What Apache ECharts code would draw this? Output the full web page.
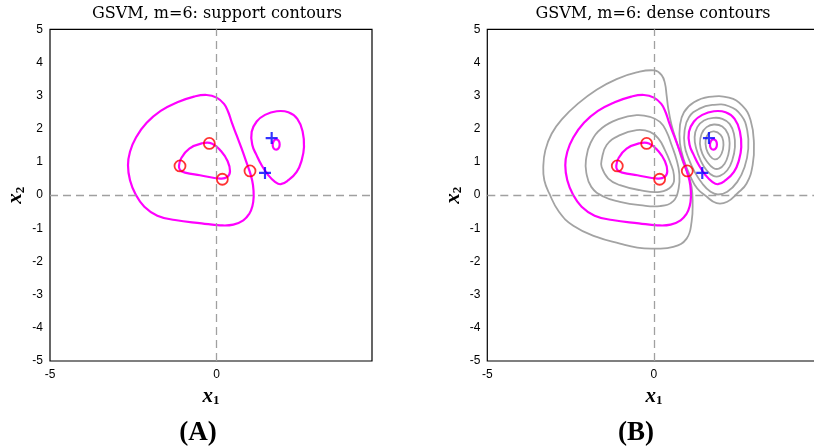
<!DOCTYPE html>
<html>
<head>
<meta charset="utf-8">
<script src="https://cdn.jsdelivr.net/npm/echarts@6/dist/echarts.min.js"></script>
<style>html,body{margin:0;padding:0;background:#fff;}#c{width:814px;height:448px;}</style>
</head>
<body>
<div id="c"></div>
<script>
// ---- Data (in data coordinates) ----
const titles = ['GSVM, m=6: support contours', 'GSVM, m=6: dense contours'];
const panelLabels = ['(A)', '(B)'];
const xMinA = -5, xMaxA = 4.66, xMinB = -5, xMaxB = 5, yMin = -5, yMax = 5;

// support contours (magenta), same in both panels
const supOuter = [[-2.66,0.90],[-2.60,1.31],[-2.42,1.74],[-2.10,2.18],[-1.68,2.54],[-1.18,2.80],[-0.68,2.97],[-0.30,3.02],[0.00,2.94],[0.22,2.75],[0.35,2.50],[0.45,2.20],[0.60,1.80],[0.75,1.40],[0.90,0.97],[1.02,0.62],[1.09,0.30],[1.11,-0.05],[1.07,-0.34],[0.98,-0.56],[0.80,-0.76],[0.50,-0.89],[0.10,-0.91],[-0.45,-0.85],[-1.25,-0.75],[-1.78,-0.62],[-2.17,-0.35],[-2.43,0.02],[-2.60,0.45]];
const supInner = [[-1.13,0.88],[-1.06,1.12],[-0.82,1.40],[-0.45,1.56],[-0.15,1.56],[0.13,1.33],[0.33,1.02],[0.40,0.72],[0.32,0.55],[0.12,0.50],[-0.50,0.60],[-0.95,0.68],[-1.10,0.76]];
const supRight = [[1.80,2.53],[1.45,2.42],[1.20,2.22],[1.05,1.91],[1.07,1.51],[1.20,1.20],[1.35,0.90],[1.55,0.60],[1.75,0.40],[1.92,0.33],[2.15,0.45],[2.40,0.70],[2.55,1.05],[2.62,1.45],[2.58,1.91],[2.42,2.30],[2.15,2.50]];
const supTiny = [[1.78,1.68],[1.71,1.63],[1.68,1.52],[1.71,1.41],[1.79,1.37],[1.86,1.42],[1.89,1.53],[1.86,1.64]];

// dense contours (gray), panel B only
const grayLeft1 = [[-3.32,0.85],[-3.26,1.35],[-3.07,1.85],[-2.75,2.30],[-2.28,2.76],[-1.72,3.18],[-1.12,3.50],[-0.52,3.70],[0.02,3.76],[0.23,3.62],[0.33,3.37],[0.38,3.01],[0.43,2.61],[0.53,2.11],[0.68,1.61],[0.85,1.05],[1.03,0.60],[1.13,0.25],[1.16,-0.20],[1.13,-0.80],[0.98,-1.31],[0.58,-1.56],[-0.02,-1.61],[-0.50,-1.58],[-1.02,-1.46],[-1.72,-1.26],[-2.42,-0.92],[-2.85,-0.50],[-3.14,0.05],[-3.29,0.45]];
const grayLeft2 = [[-2.04,1.06],[-1.90,1.58],[-1.55,2.03],[-1.04,2.30],[-0.52,2.41],[-0.12,2.36],[0.18,2.21],[0.38,1.91],[0.53,1.51],[0.68,1.06],[0.76,0.65],[0.74,0.20],[0.58,-0.18],[0.18,-0.33],[-0.42,-0.30],[-1.02,-0.20],[-1.52,-0.04],[-1.88,0.25],[-2.03,0.68]];
const grayLeft3 = [[-1.57,1.06],[-1.42,1.51],[-1.02,1.81],[-0.52,1.96],[-0.12,1.91],[0.13,1.71],[0.33,1.36],[0.48,1.01],[0.60,0.60],[0.53,0.27],[0.18,0.10],[-0.42,0.15],[-1.02,0.30],[-1.37,0.50],[-1.57,0.85]];
const grayRight1 = [[1.65,2.96],[1.20,2.80],[0.90,2.50],[0.78,2.10],[0.78,1.56],[0.90,1.05],[1.10,0.55],[1.30,0.20],[1.55,-0.02],[1.88,-0.24],[2.20,-0.20],[2.50,0.05],[2.78,0.35],[2.96,0.90],[3.00,1.56],[2.90,2.26],[2.65,2.70],[2.25,2.94]];
const grayRight2 = [[1.75,2.72],[1.35,2.60],[1.05,2.35],[0.92,1.95],[0.92,1.50],[1.04,1.10],[1.22,0.70],[1.45,0.35],[1.70,0.10],[1.92,0.02],[2.20,0.10],[2.50,0.40],[2.72,0.85],[2.83,1.40],[2.80,1.95],[2.62,2.40],[2.25,2.68]];
const grayRight3 = [[1.80,2.33],[1.50,2.25],[1.30,2.05],[1.22,1.75],[1.27,1.40],[1.40,1.05],[1.58,0.75],[1.78,0.58],[1.98,0.58],[2.20,0.75],[2.35,1.05],[2.43,1.45],[2.40,1.85],[2.27,2.15],[2.05,2.30]];
const grayRight4 = [[1.80,2.13],[1.58,2.05],[1.43,1.85],[1.38,1.55],[1.45,1.25],[1.60,1.00],[1.78,0.82],[1.95,0.80],[2.12,0.95],[2.23,1.22],[2.27,1.55],[2.22,1.85],[2.05,2.07]];
const grayRight5 = [[1.80,1.92],[1.63,1.85],[1.55,1.65],[1.57,1.40],[1.68,1.18],[1.82,1.08],[1.97,1.15],[2.07,1.38],[2.08,1.62],[2.00,1.82]];

// training points
const negPoints = [[-1.10,0.88],[-0.22,1.56],[0.17,0.48],[1.00,0.73]];
const posPoints = [[1.65,1.72],[1.45,0.67]];

// ---- Styles ----
const MAG = '#ff00ff', GRAY = '#a3a3a3';
const plusPath = 'path://M-1.8,-10h3.6v8.2h8.2v3.6h-8.2v8.2h-3.6v-8.2h-8.2v-3.6h8.2z';

// closed contour drawn as a smooth polygon through the library's coordinate system
function loop(pts, color, width, gi, z) {
  return {
    type: 'custom', xAxisIndex: gi, yAxisIndex: gi, data: pts, z: z, silent: true,
    renderItem: function (params, api) {
      if (params.dataIndex !== 0) return null;
      const points = pts.map(p => api.coord(p));
      return { type: 'polygon', shape: { points: points, smooth: 0.45 },
        style: { fill: 'none', stroke: color, lineWidth: width }, silent: true };
    }
  };
}
function axisLines(gi) {
  return {
    type: 'scatter', xAxisIndex: gi, yAxisIndex: gi, data: [], silent: true, z: 1,
    markLine: {
      silent: true, symbol: ['none', 'none'], label: { show: false },
      lineStyle: { color: '#a0a0a0', width: 1.3, type: [8, 5] },
      data: [{ xAxis: 0 }, { yAxis: 0 }], animation: false
    }
  };
}
function markers(gi) {
  return [
    { type: 'scatter', xAxisIndex: gi, yAxisIndex: gi, data: negPoints, symbol: 'circle', symbolSize: 11,
      itemStyle: { color: 'rgba(0,0,0,0)', borderColor: '#ff0000', borderWidth: 1.8 }, z: 5, silent: true },
    { type: 'scatter', xAxisIndex: gi, yAxisIndex: gi, data: posPoints, symbol: plusPath, symbolSize: 12,
      itemStyle: { color: '#0000ff' }, z: 5, silent: true }
  ];
}

const labelStyle = { color: '#000', fontSize: 12, fontFamily: 'Liberation Sans' };
const nameRich = {
  i: { fontFamily: 'Liberation Serif', fontStyle: 'italic', fontWeight: 'bold', fontSize: 21, color: '#000' },
  s: { fontFamily: 'Liberation Serif', fontWeight: 'bold', fontSize: 13, color: '#000', padding: [9, 0, 0, 0] }
};
function xAx(gi, min, max) {
  return { gridIndex: gi, type: 'value', min: min, max: max, interval: 5,
    axisLine: { show: false }, axisTick: { show: false }, splitLine: { show: false },
    axisLabel: Object.assign({ margin: 8, showMaxLabel: false }, labelStyle),
    name: '{i|x}{s|1}', nameLocation: 'middle', nameGap: 24, nameTextStyle: { rich: nameRich } };
}
function yAx(gi) {
  return { gridIndex: gi, type: 'value', min: yMin, max: yMax, interval: 1,
    axisLine: { show: false }, axisTick: { show: false }, splitLine: { show: false },
    axisLabel: Object.assign({ margin: 7 }, labelStyle),
    name: '{i|x}{s|2}', nameLocation: 'middle', nameGap: 23, nameRotate: 90, nameTextStyle: { rich: nameRich } };
}

const series = [
  axisLines(0),
  loop(supOuter, MAG, 2.2, 0, 3), loop(supInner, MAG, 2.2, 0, 3), loop(supRight, MAG, 2.2, 0, 3), loop(supTiny, MAG, 2.2, 0, 3),
  ...markers(0),
  axisLines(1),
  loop(grayLeft1, GRAY, 1.8, 1, 2), loop(grayLeft2, GRAY, 1.8, 1, 2), loop(grayLeft3, GRAY, 1.8, 1, 2),
  loop(grayRight1, GRAY, 1.8, 1, 2), loop(grayRight2, GRAY, 1.8, 1, 2), loop(grayRight3, GRAY, 1.8, 1, 2),
  loop(grayRight4, GRAY, 1.8, 1, 2), loop(grayRight5, GRAY, 1.8, 1, 2),
  loop(supOuter, MAG, 2.2, 1, 3), loop(supInner, MAG, 2.2, 1, 3), loop(supRight, MAG, 2.2, 1, 3), loop(supTiny, MAG, 2.2, 1, 3),
  ...markers(1)
];

const chart = echarts.init(document.getElementById('c'), null, { renderer: 'canvas' });
chart.setOption({
  animation: false,
  backgroundColor: '#fff',
  grid: [
    { left: 50, top: 29.3, width: 322, height: 331.7, show: true, borderColor: '#000', borderWidth: 1.2,
      backgroundColor: 'rgba(0,0,0,0)', outerBoundsMode: 'none', containLabel: false },
    { left: 487.3, top: 29.3, width: 333.3, height: 331.7, show: true, borderColor: '#000', borderWidth: 1.2,
      backgroundColor: 'rgba(0,0,0,0)', outerBoundsMode: 'none', containLabel: false }
  ],
  xAxis: [xAx(0, xMinA, xMaxA), xAx(1, xMinB, xMaxB)],
  yAxis: [yAx(0), yAx(1)],
  graphic: [
    { type: 'text', x: 217, y: 14, style: { text: titles[0], fill: '#000', font: '16px "DejaVu Serif"', textAlign: 'center', textVerticalAlign: 'middle' } },
    { type: 'text', x: 653, y: 14, style: { text: titles[1], fill: '#000', font: '16px "DejaVu Serif"', textAlign: 'center', textVerticalAlign: 'middle' } },
    { type: 'text', x: 198, y: 433, style: { text: panelLabels[0], fill: '#000', font: 'bold 27px "Liberation Serif"', textAlign: 'center', textVerticalAlign: 'middle' } },
    { type: 'text', x: 636, y: 433, style: { text: panelLabels[1], fill: '#000', font: 'bold 27px "Liberation Serif"', textAlign: 'center', textVerticalAlign: 'middle' } }
  ],
  series: series
});
</script>
</body>
</html>
